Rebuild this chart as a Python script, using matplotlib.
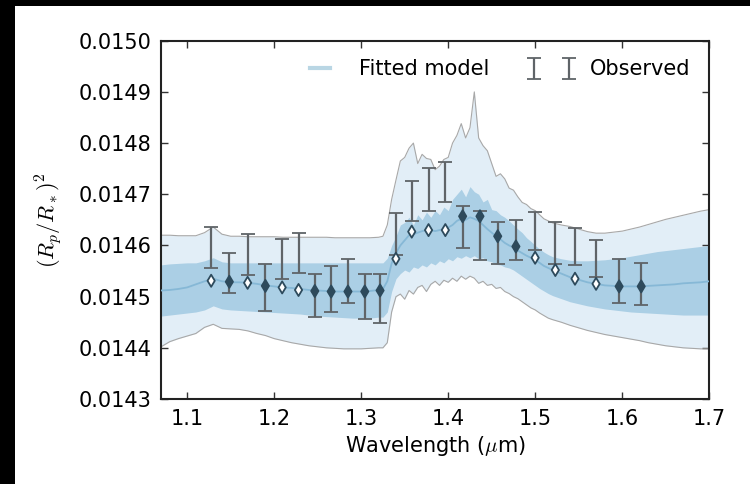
import matplotlib
matplotlib.use("Agg")
import matplotlib.pyplot as plt
import matplotlib.patches as mpatches
from matplotlib.container import ErrorbarContainer
from matplotlib.legend_handler import HandlerErrorbar
import numpy as np

plt.rcParams["mathtext.fontset"] = "cm"

# transit depth values are stored in units of 1e-6
SCALE = 1e-6

# --- model spectrum (median, 1-sigma and 2-sigma envelopes) ---
model_wl = [
    1.07, 1.08, 1.09, 1.10, 1.11, 1.12, 1.13, 1.14, 1.15, 1.16, 1.17, 1.18, 1.19,
    1.20, 1.21, 1.22, 1.23, 1.24, 1.25, 1.26, 1.27, 1.28, 1.29, 1.30, 1.31, 1.32,
    1.325, 1.330, 1.335, 1.340, 1.345, 1.350, 1.355, 1.360, 1.365, 1.370,
    1.375, 1.380, 1.385, 1.390, 1.395, 1.400, 1.405, 1.410, 1.415, 1.420,
    1.425, 1.430, 1.435, 1.440, 1.445, 1.450, 1.455, 1.460, 1.465, 1.470,
    1.475, 1.480, 1.485, 1.490, 1.495, 1.500, 1.505, 1.510, 1.515, 1.520,
    1.53, 1.54, 1.55, 1.56, 1.57, 1.58, 1.59, 1.60, 1.61, 1.62, 1.63, 1.64,
    1.65, 1.66, 1.67, 1.68, 1.69, 1.70,
]
model_med = [
    14512, 14513, 14515, 14518, 14524, 14530, 14535, 14530, 14528, 14528, 14527, 14525, 14522,
    14520, 14518, 14517, 14515, 14513, 14512, 14511, 14510, 14510, 14510, 14510, 14511, 14513,
    14515, 14530, 14565, 14585, 14600, 14610, 14620, 14622, 14625, 14628,
    14630, 14630, 14628, 14630, 14632, 14635, 14640, 14648, 14652, 14650,
    14655, 14652, 14648, 14640, 14632, 14625, 14618, 14612, 14605, 14600,
    14596, 14590, 14585, 14580, 14576, 14572, 14566, 14560, 14556, 14552,
    14545, 14538, 14533, 14528, 14525, 14522, 14521, 14520, 14520, 14520, 14521, 14522,
    14523, 14524, 14526, 14527, 14528, 14530,
]
model_hi1 = [
    14562, 14564, 14565, 14566, 14566, 14570, 14576, 14568, 14566, 14566, 14566, 14566, 14566,
    14566, 14566, 14566, 14566, 14566, 14566, 14566, 14566, 14566, 14566, 14566, 14566, 14566,
    14566, 14575, 14600, 14618, 14640, 14645, 14655, 14640, 14660, 14650,
    14665, 14655, 14668, 14660, 14675, 14668, 14690, 14700, 14710, 14695,
    14715, 14705, 14700, 14685, 14690, 14670, 14668, 14660, 14655, 14648,
    14640, 14632, 14625, 14615, 14608, 14600, 14593, 14587, 14582, 14578,
    14574, 14571, 14570, 14570, 14571, 14572, 14574, 14576, 14579, 14582, 14585, 14588,
    14590, 14592, 14594, 14596, 14598, 14600,
]
model_lo1 = [
    14462, 14464, 14466, 14468, 14470, 14474, 14482, 14476, 14474, 14473, 14472, 14471, 14470,
    14469, 14468, 14467, 14466, 14464, 14462, 14461, 14460, 14459, 14458, 14458, 14458, 14460,
    14460, 14470, 14510, 14535, 14545, 14552, 14548, 14558, 14555, 14562,
    14558, 14566, 14562, 14570, 14566, 14574, 14570, 14578, 14575, 14580,
    14576, 14580, 14574, 14576, 14570, 14568, 14563, 14562, 14558, 14556,
    14552, 14546, 14540, 14534, 14528, 14522, 14516, 14511, 14506, 14502,
    14496, 14490, 14486, 14482, 14479, 14476, 14474, 14472, 14470, 14469, 14468, 14467,
    14466, 14465, 14464, 14464, 14464, 14464,
]
model_hi2 = [
    14620, 14620, 14619, 14619, 14619, 14625, 14636, 14622, 14618, 14618, 14617, 14617, 14617,
    14617, 14616, 14616, 14616, 14616, 14616, 14616, 14615, 14615, 14615, 14615, 14615, 14616,
    14618, 14640, 14690, 14728, 14765, 14772, 14790, 14800, 14760, 14778,
    14770, 14768, 14748, 14755, 14768, 14772, 14800, 14815, 14838, 14810,
    14830, 14900, 14810, 14795, 14785, 14760, 14735, 14740, 14730, 14712,
    14708, 14695, 14684, 14680, 14672, 14668, 14660, 14652, 14648, 14644,
    14640, 14637, 14632, 14627, 14624, 14624, 14626, 14628, 14632, 14636, 14641, 14646,
    14651, 14655, 14659, 14663, 14667, 14670,
]
model_lo2 = [
    14402, 14412, 14418, 14423, 14428, 14440, 14446, 14438, 14437, 14436, 14433, 14428, 14424,
    14418, 14414, 14410, 14407, 14404, 14402, 14400, 14399, 14398, 14398, 14398, 14399, 14400,
    14400, 14410, 14470, 14500, 14505, 14495, 14512, 14505, 14518, 14522,
    14510, 14524, 14530, 14522, 14532, 14528, 14536, 14530, 14540, 14534,
    14540, 14536, 14526, 14530, 14522, 14524, 14516, 14518, 14510, 14506,
    14500, 14496, 14490, 14484, 14478, 14474, 14468, 14463, 14458, 14455,
    14450, 14444, 14439, 14434, 14430, 14426, 14423, 14420, 14417, 14414, 14410, 14407,
    14404, 14402, 14400, 14399, 14398, 14398,
]

# --- observed spectrum: bin centres, error bar top/bottom, binned model ---
obs_wl = [1.1276, 1.1485, 1.1695, 1.1899, 1.2092, 1.2280, 1.2467, 1.2655, 1.2848,
          1.3041, 1.3217, 1.3399, 1.3581, 1.3774, 1.3967, 1.4166, 1.4365, 1.4569,
          1.4778, 1.4999, 1.5231, 1.5457, 1.5699, 1.5964, 1.6218]
obs_top = [14637, 14586, 14622, 14563, 14612, 14625, 14545, 14560, 14573,
           14544, 14545, 14664, 14726, 14752, 14764, 14677, 14668, 14646,
           14649, 14666, 14646, 14635, 14610, 14574, 14566]
obs_bot = [14555, 14507, 14542, 14471, 14535, 14546, 14460, 14470, 14488,
           14457, 14449, 14581, 14648, 14667, 14684, 14595, 14572, 14564,
           14571, 14591, 14563, 14561, 14539, 14488, 14483]
binned_model = [14531, 14529, 14527, 14521, 14518, 14513, 14511, 14510, 14510,
                14510, 14512, 14574, 14627, 14630, 14630, 14657, 14657, 14618,
                14598, 14576, 14552, 14535, 14525, 14520, 14520]

x_ticks = [1.1, 1.2, 1.3, 1.4, 1.5, 1.6, 1.7]
y_ticks = [0.0143, 0.0144, 0.0145, 0.0146, 0.0147, 0.0148, 0.0149, 0.0150]

FS = 15
wl = np.array(model_wl)
med = np.array(model_med) * SCALE
hi1 = np.array(model_hi1) * SCALE
lo1 = np.array(model_lo1) * SCALE
hi2 = np.array(model_hi2) * SCALE
lo2 = np.array(model_lo2) * SCALE

top = np.array(obs_top) * SCALE
bot = np.array(obs_bot) * SCALE
centre = (top + bot) / 2
err = (top - bot) / 2
binned = np.array(binned_model) * SCALE

fig = plt.figure(figsize=(7.5, 4.84), dpi=100)
fig.patch.set_facecolor("black")
# white page with a thin black strip on the left and top, like the scan
fig.patches.append(mpatches.Rectangle((15 / 750, 0), 1, 478 / 484,
                                      transform=fig.transFigure,
                                      facecolor="white", edgecolor="none", zorder=-5))

ax = fig.add_axes([0.2147, 0.1756, 0.731, 0.7403])

# model envelopes
ax.fill_between(wl, lo2, hi2, color="#e2eef7", lw=0, zorder=1)
ax.fill_between(wl, lo1, hi1, color="#abcfe5", lw=0, zorder=2)
ax.plot(wl, hi2, color="#a8a8a8", lw=0.8, zorder=2)
ax.plot(wl, lo2, color="#a8a8a8", lw=0.8, zorder=2)
model_line, = ax.plot(wl, med, color="#86b8d6", lw=1.3, zorder=3,
                      label="Fitted model")

# binned model points: filled where the observed error bar covers them
faces = ["#2d4a5c" if b <= m <= t else "white"
         for m, t, b in zip(binned, top, bot)]
ax.scatter(obs_wl, binned, marker="d", s=38, facecolors=faces,
           edgecolors="#2d4a5c", linewidths=1.3, zorder=5)

obs = ax.errorbar(obs_wl, centre, yerr=err, fmt="none", ecolor="#5f6468",
                  elinewidth=1.6, capsize=5, capthick=1.3, zorder=4,
                  label="Observed")

ax.set_xlim(1.07, 1.70)
ax.set_ylim(0.0143, 0.0150)
ax.set_xticks(x_ticks)
ax.set_yticks(y_ticks)
ax.set_xticklabels([f"{t:.1f}" for t in x_ticks])
ax.set_yticklabels([f"{t:.4f}" for t in y_ticks])
ax.tick_params(direction="in", top=True, right=True, length=5, width=1,
               labelsize=FS, pad=7, color="#333333")
for s in ax.spines.values():
    s.set_linewidth(1.5)
    s.set_color("#222222")

ax.set_xlabel(r"Wavelength ($\mu$m)", fontsize=FS, labelpad=4)
ax.set_ylabel(r"$(R_p/R_*)^2$", fontsize=FS + 1, labelpad=10)

leg = ax.legend(handles=[model_line, obs], loc="upper right", ncol=2,
                frameon=False, numpoints=2, fontsize=FS,
                bbox_to_anchor=(1.0, 1.0), handlelength=1.6,
                columnspacing=2.2, handletextpad=1.05,
                handler_map={ErrorbarContainer: HandlerErrorbar(marker_pad=-0.05)})
leg.get_lines()[0].set_linewidth(3)
leg.get_lines()[0].set_color("#b9d6e4")

fig.savefig("out.png", dpi=100, facecolor=fig.get_facecolor())
